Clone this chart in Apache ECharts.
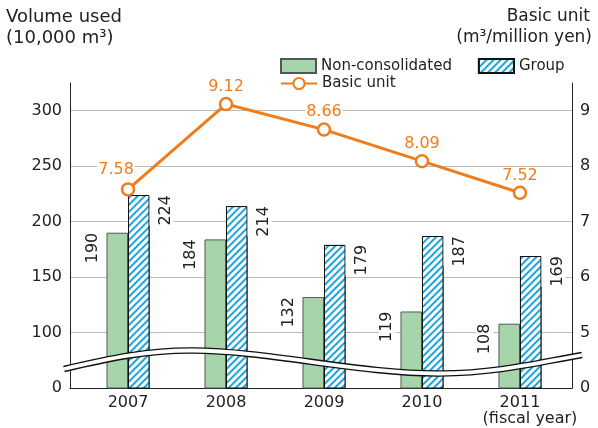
<!DOCTYPE html>
<html>
<head>
<meta charset="utf-8">
<script src="https://cdn.jsdelivr.net/npm/echarts@6/dist/echarts.min.js"></script>
<style>
  html, body { margin: 0; padding: 0; background: #fff; }
  #main { width: 598px; height: 428px; }
</style>
</head>
<body>
<div id="main"></div>
<script>
// fiscal years and values
var years = ['2007', '2008', '2009', '2010', '2011']
var nonConsolidated = [190, 184, 132, 119, 108]
var group = [224, 214, 179, 187, 169]
var basicUnit = [7.58, 9.12, 8.66, 8.09, 7.52]

// left axis is broken: its "0" sits where 50 would be
var leftTicks = [50, 100, 150, 200, 250, 300]
var rightTicks = [4, 5, 6, 7, 8, 9]

var font = 'DejaVu Sans'
var orange = '#ef7d1b'
var green = '#a6d5ab'
var blue = '#1aa6e0'

function pairs(arr) {
  return arr.map(function (v, i) { return [i, v] })
}

// the first line label sits left of its point so the line does not hit it
var lineData = basicUnit.map(function (v, i) {
  var item = { value: [i, v] }
  if (i === 0) item.label = { offset: [-12, -2] }
  return item
})

// wavy break band across the lower part of the plot
var waveSegs = [
  [64, 369, 110, 358, 150, 350, 193, 350.5],
  [193, 350.5, 270, 351, 360, 374, 440, 373.5],
  [440, 373.5, 500, 373, 540, 362, 582, 355]
]
function waveLayer(stroke, width, z) {
  return waveSegs.map(function (s) {
    return {
      type: 'bezierCurve', z: z, silent: true,
      shape: { x1: s[0], y1: s[1], cpx1: s[2], cpy1: s[3], cpx2: s[4], cpy2: s[5], x2: s[6], y2: s[7] },
      style: { stroke: stroke, lineWidth: width, fill: null }
    }
  })
}

function titleText(pos, text, size) {
  return Object.assign({
    type: 'text',
    style: { text: text, font: size + 'px "DejaVu Sans"', fill: '#222' }
  }, pos)
}

var chart = echarts.init(document.getElementById('main'))

chart.setOption({
  animation: false,
  textStyle: { fontFamily: font },
  grid: { left: 70, right: 26, top: 83, bottom: 40 },
  graphic: [
    titleText({ left: 6, top: 8 }, 'Volume used', 18),
    titleText({ left: 6, top: 29 }, '(10,000 m³)', 18),
    titleText({ right: 8, top: 8 }, 'Basic unit', 17),
    titleText({ right: 6, top: 29 }, '(m³/million yen)', 17)
  ].concat(waveLayer('#111', 6.5, 100), waveLayer('#fff', 3.8, 101)),
  legend: [
    {
      left: 280, top: 58, padding: 0, itemWidth: 35, itemHeight: 14, itemGap: 26,
      data: [{ name: 'Non-consolidated', icon: 'rect' }, { name: 'Group', icon: 'rect' }],
      textStyle: { fontSize: 15, color: '#222', fontFamily: font }
    },
    {
      left: 280, top: 76, padding: 0, itemWidth: 36, itemHeight: 14,
      data: ['Basic unit'],
      textStyle: { fontSize: 15, color: '#222', fontFamily: font }
    }
  ],
  xAxis: {
    type: 'value',
    min: -0.592,
    max: 4.531,
    axisLine: { show: true, onZero: false, lineStyle: { color: '#222', width: 1 } },
    axisTick: { show: false },
    splitLine: { show: false },
    axisLabel: {
      customValues: [0, 1, 2, 3, 4],
      margin: 7,
      color: '#222',
      fontSize: 16,
      formatter: function (v) {
        var y = years[Math.round(v)]
        return Math.round(v) === years.length - 1 ? y + '\n{b|(fiscal year)}' : y
      },
      rich: { b: { fontSize: 16, padding: [0, 0, 0, 20], color: '#222' } }
    }
  },
  yAxis: [
    {
      type: 'value',
      min: 50,
      max: 325,
      interval: 50,
      axisLine: { show: true, onZero: false, lineStyle: { color: '#222' } },
      axisTick: { show: false },
      axisLabel: {
        color: '#222', fontSize: 16, margin: 8, showMaxLabel: false,
        formatter: function (v) { return v === leftTicks[0] ? '0' : String(v) }
      },
      splitLine: { show: true, showMinLine: false, showMaxLine: false, lineStyle: { color: '#bbb' } }
    },
    {
      type: 'value',
      min: 4,
      max: 9.5,
      interval: 1,
      axisLine: { show: true, onZero: false, lineStyle: { color: '#222' } },
      axisTick: { show: false },
      axisLabel: {
        color: '#222', fontSize: 16, margin: 8, showMaxLabel: false,
        formatter: function (v) { return v === rightTicks[0] ? '0' : String(v) }
      },
      splitLine: { show: false }
    }
  ],
  series: [
    {
      name: 'Non-consolidated',
      type: 'bar',
      yAxisIndex: 0,
      barWidth: 21.5,
      barGap: '0%',
      data: pairs(nonConsolidated),
      itemStyle: { color: green, borderColor: '#555', borderWidth: 1 },
      label: {
        show: true,
        position: [-5, 0],
        rotate: 90,
        align: 'right',
        verticalAlign: 'bottom',
        fontSize: 16,
        color: '#222',
        backgroundColor: '#fff',
        padding: [0, 0, 1, 0],
        formatter: function (p) { return p.value[1] }
      }
    },
    {
      name: 'Group',
      type: 'bar',
      yAxisIndex: 0,
      barWidth: 21.5,
      barGap: '0%',
      data: pairs(group),
      itemStyle: {
        color: '#fff',
        borderColor: '#111',
        borderWidth: 1,
        decal: {
          symbol: 'rect',
          symbolSize: 1,
          color: blue,
          backgroundColor: '#fff',
          dashArrayX: [1, 0],
          dashArrayY: [1.6, 2.7],
          rotation: -Math.PI / 4
        }
      },
      label: {
        show: true,
        position: ['100%', 0],
        rotate: 90,
        align: 'right',
        verticalAlign: 'top',
        fontSize: 16,
        color: '#222',
        backgroundColor: '#fff',
        padding: [8, 0, 0, 0],
        formatter: function (p) { return p.value[1] }
      }
    },
    {
      name: 'Basic unit',
      type: 'line',
      yAxisIndex: 1,
      z: 5,
      data: lineData,
      color: orange,
      symbol: 'circle',
      symbolSize: 12,
      lineStyle: { color: orange, width: 3 },
      itemStyle: { color: '#fff', borderColor: orange, borderWidth: 2.5 },
      label: {
        show: true,
        position: 'top',
        distance: 2,
        fontSize: 16,
        color: orange,
        backgroundColor: '#fff',
        padding: [0, 1],
        formatter: function (p) { return p.value[1].toFixed(2) }
      }
    }
  ]
})
</script>
</body>
</html>
